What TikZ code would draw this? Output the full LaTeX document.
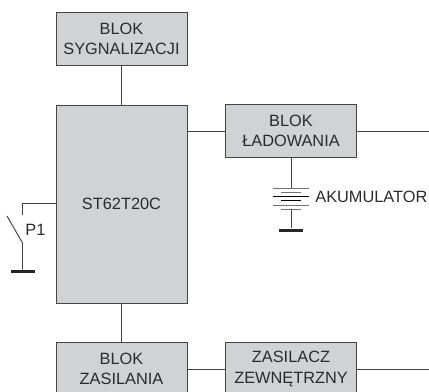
\documentclass[tikz,border=0pt]{standalone}
\usepackage{fontspec}
\setmainfont{Liberation Sans}
\usepackage{xcolor}
\definecolor{blockgray}{HTML}{D1D2D4}
\definecolor{inkline}{HTML}{454545}
\definecolor{inktext}{HTML}{2B2B2B}

\begin{document}
\begin{tikzpicture}[
  box/.style={draw=inkline, line width=0.55pt, fill=blockgray, minimum width=2.62cm,
              minimum height=1.06cm, align=center, inner sep=0pt, text=inktext,
              font=\fontsize{9.3}{11.4}\selectfont},
  wire/.style={draw=inkline, line width=0.55pt},
  earth/.style={fill=black!85, minimum width=0.48cm, minimum height=0.06cm, inner sep=0pt},
  lbl/.style={text=inktext, inner sep=0pt, anchor=west, font=\fontsize{9.3}{11.4}\selectfont}
]
  \clip (0, 0) rectangle (8.58, 7.82);

  % Blocks
  \node[box] (sygnal) at (2.43, 7.05) {BLOK\\SYGNALIZACJI};
  \node[box, minimum height=3.96cm] (st) at (2.43, 3.74) {ST62T20C};
  \node[box] (ladow) at (5.82, 5.2) {BLOK\\ŁADOWANIA};
  \node[box] (zasil) at (2.43, 0.44) {BLOK\\ZASILANIA};
  \node[box] (zewn) at (5.82, 0.44) {ZASILACZ\\ZEWNĘTRZNY};

  \draw[wire] (sygnal) -- (st);
  \draw[wire] (st) -- (zasil);
  \draw[wire] (st.east |- ladow.west) -- (ladow.west);
  \draw[wire] (zasil) -- (zewn);

  % Outputs on the right
  \coordinate (outtop) at (8.58, 5.2);
  \coordinate (outbot) at (8.58, 0.44);
  \draw[wire] (ladow) -- (outtop);
  \draw[wire] (zewn) -- (outbot);

  % Battery
  \coordinate (batttop) at (5.82, 4.06);
  \coordinate (battbot) at (5.82, 3.64);
  \foreach \y/\w/\c in {4.06/0.36/black!55, 3.98/0.2/black!55, 3.9/0.36/black,
                        3.82/0.2/black, 3.72/0.36/black!55, 3.64/0.2/black!55}
    \draw[\c, line width=0.5pt] (5.82-\w, \y) -- (5.82+\w, \y);
  \node[earth] (battgnd) at (5.82, 3.22) {};
  \node[lbl] (akum) at (6.3, 3.88) {AKUMULATOR};
  \draw[wire] (ladow) -- (batttop);
  \draw[wire] (battbot) -- (battgnd);

  % Switch P1
  \coordinate (p1corner) at (0.45, 3.76);
  \coordinate (p1top) at (0.45, 3.52);
  \coordinate (p1blade) at (0.14, 3.5);
  \coordinate (p1pivot) at (0.45, 2.96);
  \node[earth] (p1gnd) at (0.45, 2.39) {};
  \node[lbl] (p1) at (0.5, 3.23) {P1};
  \draw[wire] (st.west |- p1corner) -- (p1corner) -- (p1top);
  \draw[wire] (p1blade) -- (p1pivot) -- (p1gnd);
\end{tikzpicture}
\end{document}
